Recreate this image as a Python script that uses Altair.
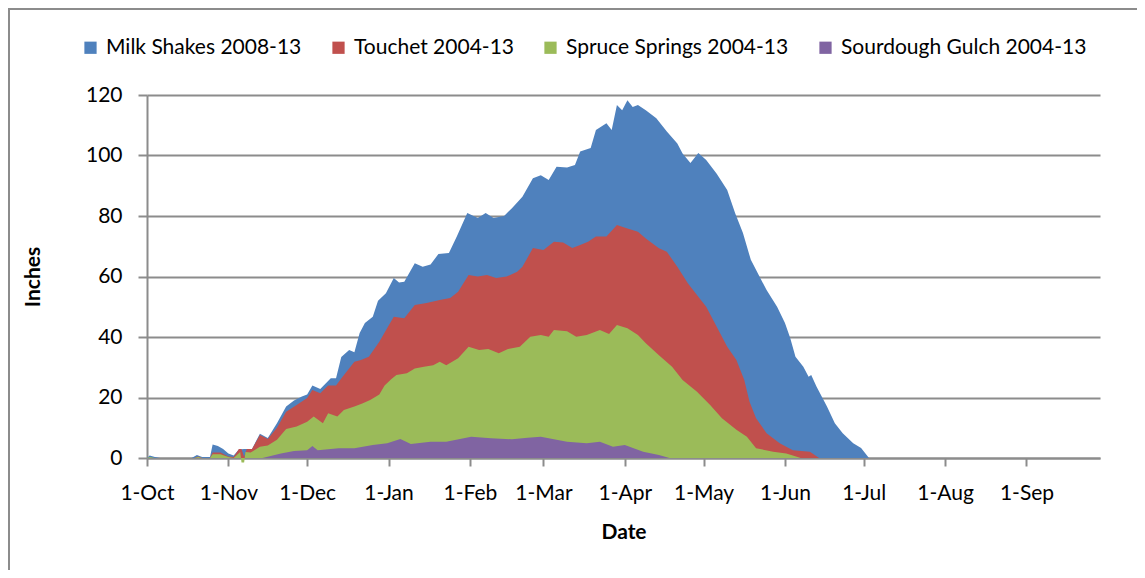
import altair as alt
import pandas as pd

# ---- data (day offset from 1-Oct, inches) ----
series_names = ["Milk Shakes 2008-13", "Touchet 2004-13", "Spruce Springs 2004-13", "Sourdough Gulch 2004-13"]
series_colors = ["#4F81BD", "#C0504D", "#9BBB59", "#8064A2"]

milk_days = [0, 1, 3, 5, 17, 19, 21, 24, 25, 27, 29, 31, 33, 35, 37, 40, 43, 46, 49.5, 53, 56, 59, 61, 63, 66, 70, 72, 74, 77, 79, 81, 83, 86, 88, 91, 94, 96, 98, 102, 105, 108, 111, 115, 118, 122, 126, 129, 132, 136, 139, 143, 147, 150, 153, 156, 160, 163, 165, 169, 171, 175, 177, 179, 181, 183, 185, 187, 190, 194, 198, 202, 204, 207, 210, 213, 217, 221, 224, 227, 230, 233, 236, 240, 243, 245, 247, 250, 252, 253, 255, 259, 262, 265, 269, 272, 275, 364]
milk_vals = [0, 0.8, 0.3, 0, 0, 1, 0.3, 0.3, 4.5, 4, 3, 1.5, 0.8, 2.8, 3, 3, 8, 6.6, 11.5, 17, 19, 20.3, 21, 24, 22.8, 26.4, 26.4, 33.4, 35.7, 35, 41.3, 44.6, 46.7, 52, 54.5, 59.5, 58, 58.3, 64.4, 63.2, 64, 67.4, 67.8, 73.2, 81, 79.3, 81, 79.3, 80, 82.6, 86.4, 92.5, 93.5, 91.9, 96.3, 96, 96.9, 101.3, 102.5, 108.4, 110.7, 108.4, 116.7, 115, 118.3, 116, 116.7, 115, 112.3, 107.9, 104, 100.7, 97.5, 100.8, 98.5, 94, 88.6, 81, 74.4, 65.5, 60.5, 55.5, 50, 44.6, 39.7, 33.5, 30.2, 26.9, 27.4, 23.6, 17, 11.5, 8.2, 4.9, 3.3, 0, 0]

touchet_days = [0, 18, 19.5, 21, 24, 25, 28, 31, 33, 35, 36, 37, 38, 40, 43, 46, 49.5, 53, 57, 61, 63, 66, 69, 72, 74.5, 79, 81.5, 84.5, 88.5, 91.5, 94, 98, 102, 106.5, 111.5, 115.5, 118.5, 122.5, 126, 129.5, 133, 137, 141, 143, 147, 151, 155, 158.5, 162, 165, 168, 171, 175, 179, 183, 187, 190, 195, 198, 202, 206, 210, 213, 217, 221, 224.5, 227.5, 229.5, 232, 236, 241, 246, 252.5, 256, 364]
touchet_vals = [0, 0, 0.5, 0, 0, 1.8, 1.8, 0.5, 0.3, 3, 3, 0.3, 3, 3, 7.6, 6.3, 10, 15.3, 17.5, 19.8, 22.5, 21.4, 24, 24, 26.9, 31.8, 32.4, 33.5, 38.4, 43, 46.7, 46.2, 50.6, 51.2, 52.2, 52.9, 55, 60.5, 60, 60.5, 59.5, 60, 61.6, 63.2, 69.4, 68.8, 71.5, 71.2, 69.4, 70.4, 71.5, 73.2, 73.2, 77, 75.9, 74.8, 72.6, 69.3, 68.2, 63.2, 57.8, 53.3, 50, 43.4, 36.8, 32.4, 25.8, 18.6, 13.1, 8.2, 4.9, 2.6, 2.1, 0, 0]

spruce_days = [0, 1, 3, 18, 19.5, 21, 24, 25, 28, 31, 33, 35.5, 36, 37, 37.5, 39.5, 43, 46, 49.5, 53, 57, 61, 63.5, 67, 69, 72.5, 75, 79, 82, 85, 88.5, 90.5, 93, 95, 99, 102, 105.5, 109, 111.5, 114, 118.5, 122.5, 126.5, 130, 134, 137.5, 142, 146, 150, 153, 155, 160, 163.5, 167.5, 172.5, 176, 179, 183, 187, 190, 195, 200, 204, 209.5, 214.5, 219, 224.5, 228.5, 232, 238.5, 243.5, 246, 249, 364]
spruce_vals = [0, 0.3, 0, 0, 0.3, 0, 0, 1.2, 1.2, 0.3, 0, 2, -1.5, -1.5, 2, 1.8, 3.7, 4.1, 6, 9.6, 10.4, 12, 13.7, 11.5, 14.8, 13.7, 15.9, 17, 18, 19.2, 21, 24, 26, 27.4, 28, 29.6, 30.2, 30.7, 31.8, 30.7, 33, 36.8, 35.7, 36, 34.6, 36, 36.8, 40.1, 40.7, 40.1, 42.3, 41.9, 40.1, 40.7, 42.3, 41, 44, 42.9, 40.7, 37.9, 34, 30.2, 25.8, 21.9, 17.5, 13.1, 9.3, 7, 3.2, 2.1, 1.5, 0.8, 0, 0]

sourdough_days = [0, 44, 51, 56, 61, 63, 65, 73, 79, 86, 91.5, 96.5, 100.5, 108, 114, 123.5, 131, 139, 145, 150, 160, 167.5, 172.5, 177.5, 182, 189, 195, 199, 364]
sourdough_vals = [0, 0, 1.5, 2.3, 2.6, 4, 2.6, 3.2, 3.2, 4.3, 4.9, 6.3, 4.6, 5.4, 5.4, 7, 6.5, 6.2, 6.7, 7, 5.4, 4.9, 5.4, 3.7, 4.3, 2.1, 1, 0, 0]

month_starts = ["2012-10-01", "2012-11-01", "2012-12-01", "2013-01-01", "2013-02-01", "2013-03-01",
                "2013-04-01", "2013-05-01", "2013-06-01", "2013-07-01", "2013-08-01", "2013-09-01"]

# ---- build table ----
base = pd.Timestamp("2012-10-01")
frames = []
for name, days, vals in zip(series_names,
                            [milk_days, touchet_days, spruce_days, sourdough_days],
                            [milk_vals, touchet_vals, spruce_vals, sourdough_vals]):
    d = pd.DataFrame({"day": days, "inches": vals})
    d["date"] = (base + pd.to_timedelta(d["day"], unit="D")).dt.strftime("%Y-%m-%dT%H:%M:%S")
    d["series"] = name
    frames.append(d)
df = pd.concat(frames, ignore_index=True)

tick_vals = [alt.DateTime(year=int(s[:4]), month=int(s[5:7]), date=int(s[8:10])) for s in month_starts]

FONT = "Lato"
GREY = "#8c8c8c"

color = alt.Color(
    "series:N",
    scale=alt.Scale(domain=series_names, range=series_colors),
    legend=alt.Legend(
        title=None, orient="none", legendX=-67, legendY=-58, direction="horizontal", columns=4,
        symbolType="square", symbolSize=150, symbolStrokeWidth=0, labelFontSize=21,
        labelFont=FONT, columnPadding=26, labelOffset=5, labelColor="#000000", labelLimit=0,
    ),
)

x = alt.X(
    "date:T",
    scale=alt.Scale(domain=[alt.DateTime(year=2012, month=10, date=1), alt.DateTime(year=2013, month=9, date=29)]),
    axis=alt.Axis(values=tick_vals, format="%-d-%b", title="Date", grid=False, labelOverlap=False,
                  labelFlush=False, tickSize=8, labelPadding=16, titlePadding=18),
)
y = alt.Y(
    "inches:Q", stack=None,
    scale=alt.Scale(domain=[0, 120], nice=False),
    axis=alt.Axis(values=[0, 20, 40, 60, 80, 100, 120], title="Inches", grid=True,
                  tickSize=9, labelPadding=16, titlePadding=42),
)

layers = []
for name in series_names:
    layers.append(
        alt.Chart(df).transform_filter(alt.datum.series == name)
        .mark_area(interpolate="linear", opacity=1)
        .encode(x=x, y=y, color=color)
    )

border = alt.Chart(pd.DataFrame({"a": [0]})).mark_rect(
    filled=False, stroke=GREY, strokeWidth=2, clip=False
).encode(x=alt.value(-138), x2=alt.value(1100), y=alt.value(-86), y2=alt.value(600))

chart = alt.layer(*layers, border).properties(
    width=953, height=363,
    padding={"left": 139, "top": 87, "right": 37, "bottom": 112},
    autosize=alt.AutoSizeParams(type="none"),
).configure_view(stroke=None).configure_axis(
    labelFont=FONT, titleFont=FONT, labelFontSize=21, titleFontSize=21, titleFontWeight="bold",
    labelColor="#000000", titleColor="#000000",
    domainColor=GREY, domainWidth=2, tickColor=GREY, tickWidth=2, gridColor=GREY, gridWidth=2,
)

chart.save("out.html", embed_options={"renderer": "svg", "actions": False})
